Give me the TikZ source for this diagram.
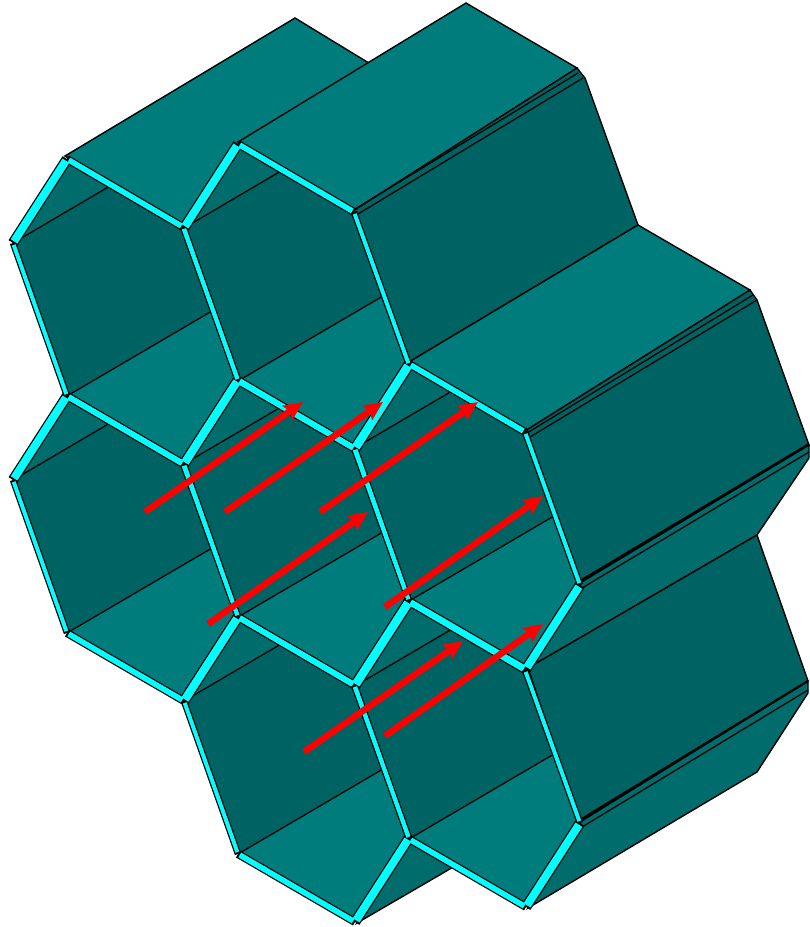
\documentclass[tikz,border=0pt]{standalone}
\usetikzlibrary{arrows.meta}
\begin{document}
\begin{tikzpicture}[x=1pt, y=-1pt, line join=miter,
    faceLight/.style={fill=topColour, draw=black, line width=1.4pt},
    faceDark/.style={fill=sideColour, draw=black, line width=1.4pt},
    faceMid/.style={fill=stripColour, draw=black, line width=1.4pt},
    fineLine/.style={black, line width=1.3pt},
    redArrow/.style={red, line width=6.5pt, -{Stealth[length=19pt, width=17pt, inset=3pt]}}]
    % Define colours
    \definecolor{topColour}{HTML}{007C7C}
    \definecolor{sideColour}{HTML}{006363}
    \definecolor{stripColour}{HTML}{006C6C}
    \definecolor{wallColour}{HTML}{00FFFF}

    % Fix the picture size
    \useasboundingbox (0,0) rectangle (810,927);

    % Define cell offsets and corners
    \def\cellList{0/0, 171/-15, 0/237, 171/221, 342/205, 171/458, 342/443}
    \def\cellCorners{
        \coordinate (P1) at (13,243);
        \coordinate (P2) at (67,159);
        \coordinate (P3) at (183,227);
        \coordinate (P4) at (238,380);
        \coordinate (P5) at (184,464);
        \coordinate (P6) at (67,396);
        \coordinate (Qa) at (110,186);
        \coordinate (Qb) at (212,311);
    }

    % Draw outer faces, back to front
    \draw[faceLight] (65,156) -- (295,18) -- (400,82) -- (183,226) -- cycle;
    \draw[faceMid] (357,923) -- (412,840) -- (455,866) -- cycle;
    \draw[faceLight] (238,142) -- (466,3) -- (577,68) -- (353,211) -- cycle;
    \draw[faceDark] (353,211) -- (577,68) -- (585,78) -- (638,225) -- (409,362) -- cycle;
    \draw[faceLight] (409,362) -- (638,225) -- (750,290) -- (525,431) -- cycle;
    \draw[faceDark] (525,431) -- (750,290) -- (757,300) -- (809,445) -- (580,583) -- cycle;
    \draw[faceMid] (580,583) -- (809,445) -- (809,458) -- (757,535) -- (528,668) -- cycle;
    \draw[faceDark] (528,668) -- (757,535) -- (808,681) -- (580,822) -- cycle;
    \draw[faceMid] (580,822) -- (808,681) -- (808,693) -- (757,772) -- (528,908) -- cycle;

    % Draw ridge lines on the outer faces
    \draw[fineLine] (355,209) -- (578,73);
    \draw[fineLine] (358,214) -- (583,78);
    \draw[fineLine] (527,433) -- (753,295);
    \draw[fineLine] (530,437) -- (757,300);
    \draw[fineLine, line width=2.2pt] (580,581) -- (809,444);
    \draw[fineLine] (582,588) -- (809,452);
    \draw[fineLine, line width=2.2pt] (580,820) -- (808,681);
    \draw[fineLine] (582,827) -- (808,690);

    % Draw the inside of each cell
    \foreach \ox/\oy in \cellList {
        \begin{scope}[shift={(\ox,\oy)}]
            \cellCorners
            \fill[stripColour] (P1) -- (P2) -- (Qa) -- cycle;
            \fill[sideColour] (P1) -- (Qa) -- (P3) -- (Qb) -- (P6) -- cycle;
            \fill[topColour] (P6) -- (Qb) -- (P4) -- (P5) -- cycle;
            \draw[fineLine] (P1) -- (Qa);
            \draw[fineLine] (P6) -- (Qb);
        \end{scope}
    }

    % Draw black edges of the walls
    \foreach \ox/\oy in \cellList {
        \begin{scope}[shift={(\ox,\oy)}]
            \cellCorners
            \foreach \a/\b/\w in {P1/P2/8, P2/P3/5.5, P3/P4/4, P4/P5/8, P5/P6/5.5, P6/P1/4}
                \draw[black, line width=\w+2.5] (\a) -- (\b);
        \end{scope}
    }

    % Draw cyan fronts of the walls
    \foreach \ox/\oy in \cellList {
        \begin{scope}[shift={(\ox,\oy)}]
            \cellCorners
            \foreach \a/\b/\w in {P1/P2/8, P2/P3/5.5, P3/P4/4, P4/P5/8, P5/P6/5.5, P6/P1/4}
                \draw[wallColour, line width=\w, shorten >=2pt, shorten <=2pt] (\a) -- (\b);
        \end{scope}
    }

    % Define arrow ends
    \coordinate (tailA) at (145,512);  \coordinate (headA) at (303,402);
    \coordinate (tailB) at (225,512);  \coordinate (headB) at (383,402);
    \coordinate (tailC) at (320,512);  \coordinate (headC) at (478,402);
    \coordinate (tailD) at (208,624);  \coordinate (headD) at (368,512);
    \coordinate (tailE) at (385,607);  \coordinate (headE) at (543,496);
    \coordinate (tailF) at (304,752);  \coordinate (headF) at (463,641);
    \coordinate (tailG) at (385,736);  \coordinate (headG) at (543,624);

    % Draw arrows
    \foreach \n in {A,...,G}
        \draw[redArrow] (tail\n) -- (head\n);

\end{tikzpicture}
\end{document}
